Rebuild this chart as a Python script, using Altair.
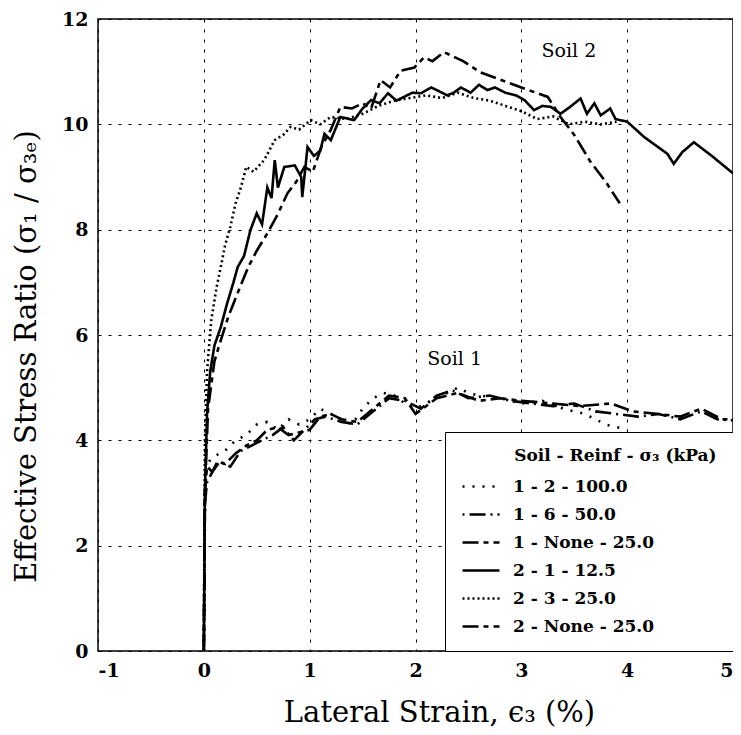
import altair as alt
import pandas as pd

# ---------------- data ----------------
labels = ["1 - 2 - 100.0", "1 - 6 - 50.0", "1 - None - 25.0",
          "2 - 1 - 12.5", "2 - 3 - 25.0", "2 - None - 25.0"]

s1_x = [0, 0.01, 0.02, 0.05, 0.1, 0.2, 0.3, 0.4, 0.5, 0.6, 0.7, 0.8, 0.9, 1.0, 1.1, 1.2, 1.3, 1.4,
        1.5, 1.6, 1.7, 1.8, 1.9, 2.0, 2.1, 2.2, 2.3, 2.4, 2.5, 2.6, 2.8, 3.0, 3.2, 3.4, 3.6, 3.8, 4.0]
s1_y = [0, 2.5, 3.4, 3.6, 3.7, 3.8, 4.0, 4.1, 4.3, 4.35, 4.2, 4.4, 4.3, 4.4, 4.6, 4.5, 4.4, 4.3,
        4.6, 4.8, 4.9, 4.85, 4.7, 4.6, 4.7, 4.8, 4.9, 5.0, 4.9, 4.85, 4.8, 4.7, 4.75, 4.6, 4.5, 4.3, 4.2]

s2_x = [0, 0.01, 0.03, 0.08, 0.15, 0.25, 0.35, 0.45, 0.55, 0.65, 0.75, 0.85, 0.95, 1.05, 1.15, 1.3,
        1.45, 1.6, 1.75, 1.9, 2.05, 2.2, 2.35, 2.5, 2.7, 2.9, 3.1, 3.3, 3.5, 3.7, 3.9, 4.1, 4.3, 4.5,
        4.7, 4.85, 5.0]
s2_y = [0, 2.8, 3.2, 3.4, 3.6, 3.5, 3.8, 3.9, 4.0, 4.1, 4.25, 4.0, 4.2, 4.4, 4.45, 4.35,
        4.3, 4.55, 4.8, 4.75, 4.6, 4.85, 4.95, 4.8, 4.85, 4.75, 4.7, 4.65, 4.7, 4.55, 4.5, 4.45, 4.5, 4.4,
        4.55, 4.4, 4.38]

s3_x = [0, 0.01, 0.03, 0.08, 0.13, 0.2, 0.3, 0.4, 0.5, 0.6, 0.7, 0.8, 0.9, 1.0, 1.1, 1.2, 1.3, 1.45,
        1.6, 1.75, 1.9, 2.0, 2.2, 2.4, 2.6, 2.8, 3.0, 3.3, 3.55, 3.85, 4.05, 4.3, 4.5, 4.7, 4.9, 5.0]
s3_y = [0, 3.0, 3.5, 3.4, 3.6, 3.55, 3.75, 3.9, 4.0, 4.2, 4.25, 4.1, 4.15, 4.2, 4.45, 4.5, 4.4, 4.35,
        4.6, 4.85, 4.8, 4.5, 4.8, 4.9, 4.75, 4.8, 4.75, 4.7, 4.65, 4.7, 4.55, 4.5, 4.45, 4.6, 4.4, 4.4]

s4_x = [0, 0.01, 0.03, 0.06, 0.1, 0.16, 0.22, 0.28, 0.32, 0.38, 0.44, 0.5, 0.55, 0.6, 0.64, 0.67, 0.7,
        0.76, 0.86, 0.92, 0.93, 0.98, 1.04, 1.1, 1.14, 1.2, 1.29, 1.42, 1.5, 1.58, 1.66, 1.74, 1.82, 1.89,
        1.97, 2.05, 2.15, 2.2, 2.3, 2.36, 2.43, 2.52, 2.6, 2.68, 2.75, 2.85, 2.95, 3.03, 3.12, 3.2, 3.28,
        3.37, 3.46, 3.56, 3.62, 3.69, 3.75, 3.84, 3.89, 4.0, 4.16, 4.38, 4.44, 4.52, 4.63, 4.8, 5.0]
s4_y = [0, 3.0, 4.5, 5.3, 5.8, 6.15, 6.6, 7.0, 7.29, 7.5, 7.99, 8.31, 8.1, 8.8, 8.6, 9.32, 8.8,
        9.19, 9.22, 9.0, 8.62, 9.57, 9.4, 9.5, 9.82, 9.7, 10.14, 10.08, 10.3, 10.46, 10.4, 10.59, 10.45, 10.52,
        10.6, 10.59, 10.7, 10.65, 10.55, 10.6, 10.7, 10.6, 10.75, 10.65, 10.7, 10.6, 10.55, 10.46, 10.27, 10.35, 10.33,
        10.2, 10.33, 10.49, 10.2, 10.4, 10.17, 10.3, 10.1, 10.05, 9.76, 9.44, 9.25, 9.47, 9.66, 9.4, 9.07]

s5_x = [0, 0.01, 0.03, 0.07, 0.12, 0.16, 0.2, 0.25, 0.3, 0.35, 0.4, 0.47, 0.57, 0.67, 0.75, 0.82, 0.9,
        1.01, 1.1, 1.2, 1.35, 1.5, 1.65, 1.8, 1.95, 2.1, 2.25, 2.4, 2.55, 2.7, 2.85, 3.0, 3.15, 3.3, 3.45,
        3.6, 3.75, 3.9]
s5_y = [0, 4.0, 5.3, 6.28, 6.9, 7.29, 7.7, 8.05, 8.5, 8.8, 9.19, 9.1, 9.32, 9.7, 9.8, 9.95, 9.9,
        10.08, 10.0, 10.14, 10.1, 10.2, 10.35, 10.45, 10.5, 10.55, 10.5, 10.6, 10.5, 10.45, 10.35, 10.25, 10.1, 10.15, 10.0,
        10.05, 10.0, 10.05]

s6_x = [0, 0.01, 0.04, 0.1, 0.16, 0.23, 0.32, 0.42, 0.5, 0.6, 0.7, 0.79, 0.87, 0.95, 1.03, 1.11, 1.2,
        1.29, 1.4, 1.5, 1.58, 1.67, 1.76, 1.86, 1.99, 2.08, 2.16, 2.27, 2.45, 2.61, 2.8, 3.0, 3.25, 3.37,
        3.5, 3.65, 3.8, 3.93]
s6_y = [0, 3.0, 4.6, 5.5, 5.9, 6.34, 6.8, 7.29, 7.6, 7.93, 8.3, 8.69, 8.9, 9.19, 9.1, 9.57, 9.9,
        10.33, 10.3, 10.4, 10.3, 10.84, 10.7, 11.02, 11.08, 11.27, 11.2, 11.37, 11.2, 10.99, 10.85, 10.7, 10.52, 10.14,
        9.8, 9.3, 8.9, 8.5]

series_x = [s1_x, s2_x, s3_x, s4_x, s5_x, s6_x]
series_y = [s1_y, s2_y, s3_y, s4_y, s5_y, s6_y]

dashes = [[2, 8], [2, 5, 16, 5], [16, 5, 5, 5], [1, 0], [2, 3], [16, 5, 5, 5]]
widths = [2.6, 2.6, 2.6, 3.4, 3.2, 3.6]

ann_text = ["Soil 2", "Soil 1"]
ann_x = [3.45, 2.37]
ann_y = [11.4, 5.55]

x_ticks = [-1, 0, 1, 2, 3, 4, 5]
y_ticks = [0, 2, 4, 6, 8, 10, 12]

rows = []
for lab, xs, ys in zip(labels, series_x, series_y):
    for i, (xv, yv) in enumerate(zip(xs, ys)):
        rows.append({"series": lab, "x": xv, "y": yv, "i": i})
df = pd.DataFrame(rows)
ann = pd.DataFrame({"t": ann_text, "x": ann_x, "y": ann_y})

FONT = "DejaVu Serif"
LEG_TITLE = "\u2800" * 4 + "Soil - Reinf - \u03c3\u2083 (kPa)"

xs = alt.Scale(domain=[-1, 5], nice=False, zero=False)
ys = alt.Scale(domain=[0, 12], nice=False, zero=False)

lines = alt.Chart(df).mark_line(color="black", strokeCap="butt", clip=True).encode(
    x=alt.X("x:Q", scale=xs,
            axis=alt.Axis(values=x_ticks, labelExpr="'' + datum.value",
                          title="Lateral Strain, \u03f5\u2083 (%)", titleX=341)),
    y=alt.Y("y:Q", scale=ys,
            axis=alt.Axis(values=y_ticks, title="Effective Stress Ratio (\u03c3\u2081 / \u03c3\u2083\u2091)",
                          titleY=337)),
    strokeDash=alt.StrokeDash("series:N", scale=alt.Scale(domain=labels, range=dashes),
                              legend=alt.Legend(title=LEG_TITLE)),
    strokeWidth=alt.StrokeWidth("series:N", scale=alt.Scale(domain=labels, range=widths),
                                legend=alt.Legend(title=LEG_TITLE)),
    detail="series:N",
    order="i:Q",
)

texts = alt.Chart(ann).mark_text(font=FONT, fontSize=19, color="black").encode(
    x=alt.X("x:Q", scale=xs), y=alt.Y("y:Q", scale=ys), text="t:N")

chart = (lines + texts).properties(
    width=635, height=632,
    padding={"left": 90, "top": 11, "right": 0, "bottom": 84},
    autosize=alt.AutoSizeParams(type="none"),
).configure_view(stroke="black", strokeWidth=1.5).configure_axis(
    grid=True, gridColor="black", gridDash=[3, 7], gridWidth=1, gridOpacity=1,
    domain=False, ticks=False,
    labelFont=FONT, labelFontSize=19, labelFontWeight="bold", labelColor="black",
    titleFont=FONT, titleFontSize=29, titleFontWeight="normal", titleColor="black",
).configure_axisX(labelPadding=10, titlePadding=18).configure_axisY(
    labelPadding=10, titlePadding=20
).configure_legend(
    orient="bottom-right", offset=0, padding=16, rowPadding=8, titlePadding=10,
    fillColor="white", strokeColor="black", cornerRadius=0,
    symbolType="M-1,0H2.7", symbolStrokeColor="black", symbolSize=400,
    labelFont=FONT, labelFontSize=17, labelFontWeight="bold", labelColor="black", labelOffset=29,
    titleFont=FONT, titleFontSize=17, titleFontWeight="bold", titleColor="black",
    labelLimit=400, titleLimit=400,
)

chart.save("out.html", embed_options={"renderer": "svg", "actions": False})
